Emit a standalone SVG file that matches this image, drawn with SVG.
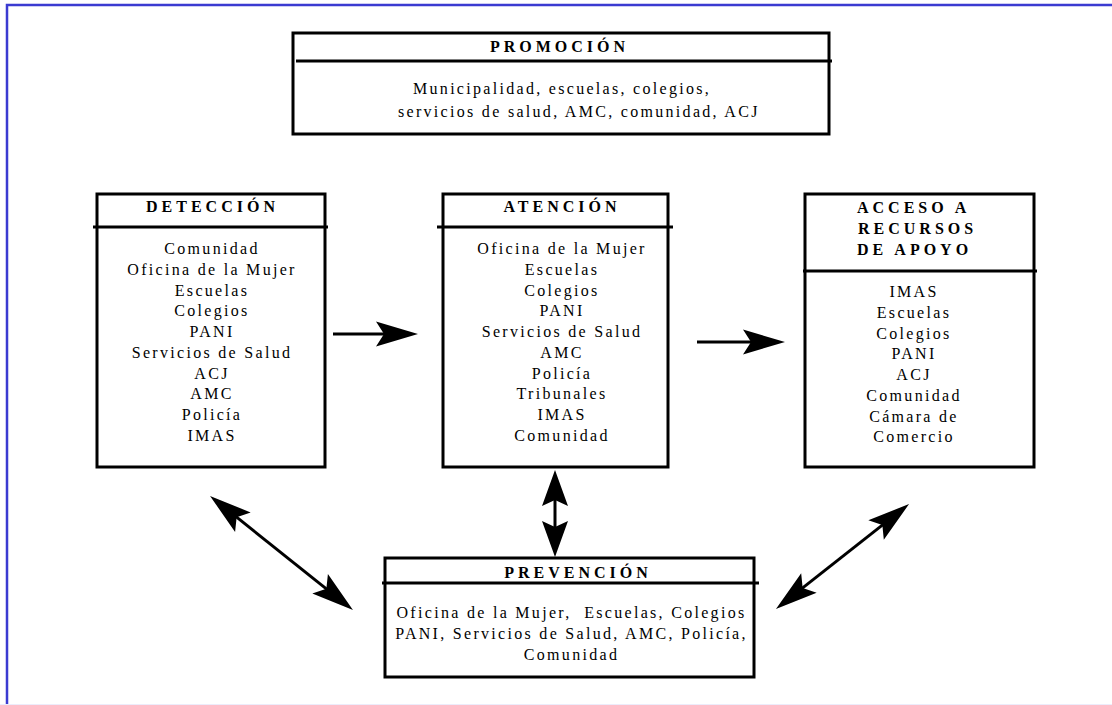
<svg xmlns="http://www.w3.org/2000/svg" width="1112" height="705" viewBox="0 0 1112 705">
<style>
.box{fill:#fff;stroke:#000;stroke-width:3}
.hdr{stroke:#000;stroke-width:3;fill:none}
.t{font-family:"Liberation Serif","Times New Roman",serif;font-size:16px;font-weight:bold;letter-spacing:4px;fill:#000}
.b{font-family:"Liberation Serif","Times New Roman",serif;font-size:16px;letter-spacing:2.3px;fill:#000}
.m{text-anchor:middle}
.c{stroke:#000;stroke-width:3;fill:none}
</style>
<defs>
<marker id="ah" markerUnits="userSpaceOnUse" viewBox="-14 -14 46 28" markerWidth="46" markerHeight="28" refX="0" refY="0" orient="auto-start-reverse">
<path d="M30,0 L-12,-12.5 L-4,0 L-12,12.5 Z" fill="#000"/>
</marker>
<marker id="ahs" markerUnits="userSpaceOnUse" viewBox="-12 -14 40 28" markerWidth="40" markerHeight="28" refX="0" refY="0" orient="auto-start-reverse">
<path d="M26,0 L-10,-13 L-4,0 L-10,13 Z" fill="#000"/>
</marker>
</defs>
<rect x="0" y="0" width="1112" height="705" fill="#fff"/>
<path d="M7,705 V5 H1112" fill="none" stroke="#3b3bd1" stroke-width="2.5"/>
<line x1="0" y1="704.5" x2="1112" y2="704.5" stroke="#ececfb" stroke-width="1"/>

<g id="promocion">
<rect class="box" x="293" y="33" width="536" height="101"/>
<line class="hdr" x1="296" y1="61" x2="832" y2="61"/>
<text class="t m" x="559.5" y="52">PROMOCIÓN</text>
<text class="b" x="413" y="94">Municipalidad, escuelas, colegios,</text>
<text class="b" x="398" y="117">servicios de salud, AMC, comunidad, ACJ</text>
</g>

<g id="deteccion">
<rect class="box" x="97" y="194" width="228" height="273"/>
<line class="hdr" x1="93" y1="227" x2="328" y2="227"/>
<text class="t m" x="212.5" y="212">DETECCIÓN</text>
<g class="b m">
<text x="212" y="254">Comunidad</text>
<text x="212" y="274.75">Oficina de la Mujer</text>
<text x="212" y="295.5">Escuelas</text>
<text x="212" y="316.25">Colegios</text>
<text x="212" y="337">PANI</text>
<text x="212" y="357.75">Servicios de Salud</text>
<text x="212" y="378.5">ACJ</text>
<text x="212" y="399.25">AMC</text>
<text x="212" y="420">Policía</text>
<text x="212" y="440.75">IMAS</text>
</g>
</g>

<g id="atencion">
<rect class="box" x="443" y="194" width="225" height="273"/>
<line class="hdr" x1="437" y1="227" x2="673" y2="227"/>
<text class="t m" x="562" y="212">ATENCIÓN</text>
<g class="b m">
<text x="562" y="254">Oficina de la Mujer</text>
<text x="562" y="274.75">Escuelas</text>
<text x="562" y="295.5">Colegios</text>
<text x="562" y="316.25">PANI</text>
<text x="562" y="337">Servicios de Salud</text>
<text x="562" y="357.75">AMC</text>
<text x="562" y="378.5">Policía</text>
<text x="562" y="399.25">Tribunales</text>
<text x="562" y="420">IMAS</text>
<text x="562" y="440.75">Comunidad</text>
</g>
</g>

<g id="acceso">
<rect class="box" x="805" y="194" width="229" height="273"/>
<line class="hdr" x1="803" y1="271" x2="1037" y2="271"/>
<text class="t" x="857" y="213">ACCESO A</text>
<text class="t" x="858" y="234">RECURSOS</text>
<text class="t" x="857" y="255">DE APOYO</text>
<g class="b m">
<text x="914" y="297">IMAS</text>
<text x="914" y="317.75">Escuelas</text>
<text x="914" y="338.5">Colegios</text>
<text x="914" y="359.25">PANI</text>
<text x="914" y="380">ACJ</text>
<text x="914" y="400.75">Comunidad</text>
<text x="914" y="421.5">Cámara de</text>
<text x="914" y="442.25">Comercio</text>
</g>
</g>

<g id="prevencion">
<rect class="box" x="385" y="558" width="369" height="119"/>
<line class="hdr" x1="382" y1="583" x2="759" y2="583"/>
<text class="t m" x="578" y="578">PREVENCIÓN</text>
<g class="b m">
<text x="571.5" y="618" xml:space="preserve">Oficina de la Mujer,  Escuelas, Colegios</text>
<text x="571.5" y="639">PANI, Servicios de Salud, AMC, Policía,</text>
<text x="571.5" y="660">Comunidad</text>
</g>
</g>

<g id="connectors">
<line class="c" x1="333" y1="334" x2="388" y2="334" marker-end="url(#ah)"/>
<line class="c" x1="697" y1="342" x2="755" y2="342" marker-end="url(#ah)"/>
<line class="c" x1="555" y1="496" x2="555" y2="531" marker-start="url(#ahs)" marker-end="url(#ahs)"/>
<line class="c" x1="233.5" y1="514.7" x2="329.5" y2="591.3" marker-start="url(#ah)" marker-end="url(#ah)"/>
<line class="c" x1="885.5" y1="522.6" x2="799.5" y2="590.4" marker-start="url(#ah)" marker-end="url(#ah)"/>
</g>
</svg>
